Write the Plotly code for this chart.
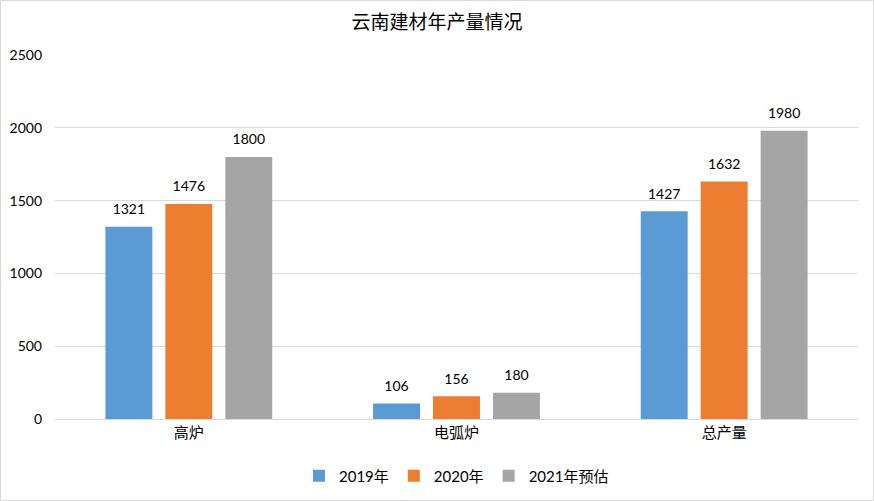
import plotly.graph_objects as go

categories = ["高炉", "电弧炉", "总产量"]
series_names = ["2019年", "2020年", "2021年预估"]
v2019 = [1321, 106, 1427]
v2020 = [1476, 156, 1632]
v2021 = [1800, 180, 1980]
colors = ["#5B9BD5", "#ED7D31", "#A5A5A5"]

FONT = "Lato, 'Noto Sans CJK SC', sans-serif"
CJK = "'Noto Sans CJK SC', sans-serif"
W, H = 874, 501
ml, mr, mt, mb = 55, 16, 55, 82

fig = go.Figure()
for i, (name, vals, c) in enumerate(zip(series_names, [v2019, v2020, v2021], colors)):
    fig.add_trace(go.Bar(
        x=categories, y=vals, name=name, marker=dict(color=c, line=dict(width=0)),
        offsetgroup=str(i),
    ))
for i, vals in enumerate([v2019, v2020, v2021]):
    fig.add_trace(go.Scatter(
        x=categories, y=vals, mode="markers+text", text=[str(v) for v in vals],
        textposition="top center", offsetgroup=str(i), showlegend=False,
        marker=dict(size=13, color="rgba(0,0,0,0)"), cliponaxis=False, hoverinfo="skip",
        textfont=dict(size=14, color="#000000", family=FONT),
    ))

pw = W - ml - mr
ph = H - mt - mb
fig.add_shape(type="rect", xref="paper", yref="paper",
              x0=(-ml + 0.5) / pw, x1=1 + (mr - 0.5) / pw,
              y0=(-mb + 0.5) / ph, y1=1 + (mt - 0.5) / ph,
              line=dict(color="#D9D9D9", width=1), fillcolor="rgba(0,0,0,0)", layer="below")

fig.update_layout(
    width=W, height=H,
    margin=dict(l=ml, r=mr, t=mt, b=mb, autoexpand=False),
    paper_bgcolor="white", plot_bgcolor="white",
    barmode="group", bargap=0.328, bargroupgap=0.217,
    scattermode="group", scattergap=0.328,
    title=dict(text="云南建材年产量情况", x=0.5, xanchor="center", y=1 - 22 / H, yanchor="middle",
               font=dict(size=19, color="#000000", family=CJK)),
    font=dict(family=FONT, size=14, color="#000000"),
    xaxis=dict(showgrid=False, showline=True, linecolor="#D9D9D9", linewidth=1,
               ticks="", tickfont=dict(size=15, family=CJK)),
    yaxis=dict(range=[0, 2500], dtick=500, showgrid=True, gridcolor="#D9D9D9", gridwidth=1,
               zeroline=False, showline=False, ticks="", ticklabelstandoff=12,
               tickfont=dict(size=14, family=FONT)),
    legend=dict(orientation="h", x=0.5, xanchor="center", y=-(476 - 419) / ph, yanchor="middle",
                font=dict(size=15, family=FONT), itemwidth=30, traceorder="normal"),
)

fig.write_html("out.html")
